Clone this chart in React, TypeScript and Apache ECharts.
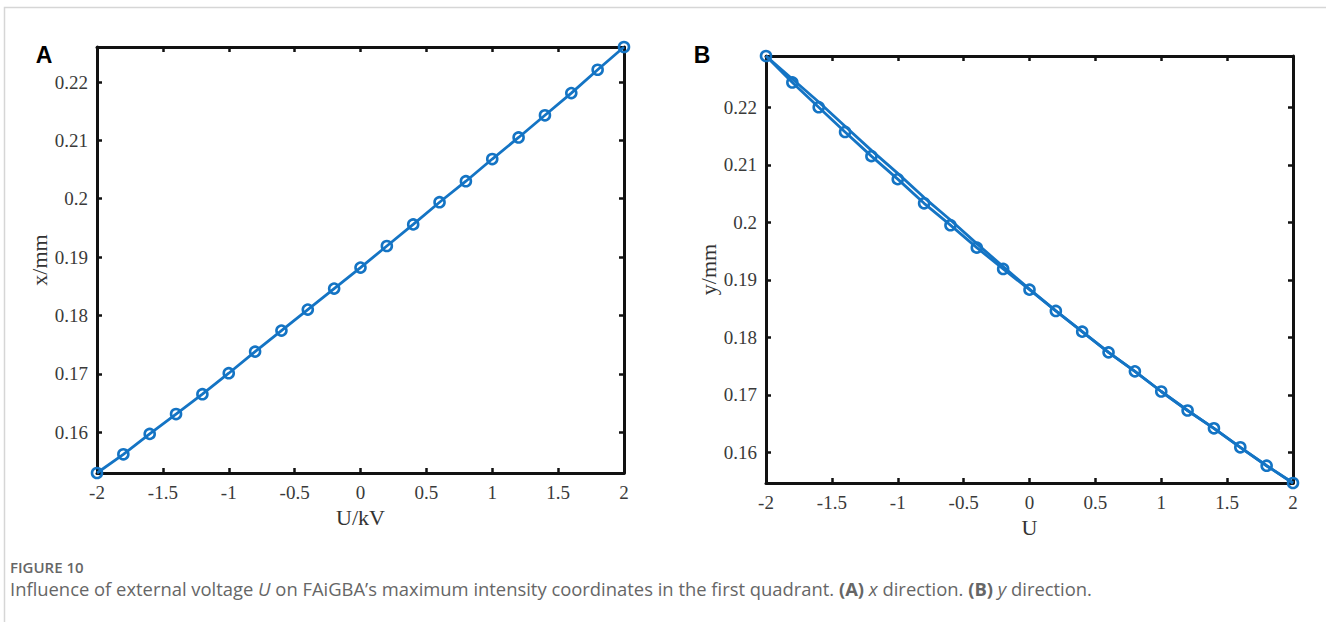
import React, { useEffect, useRef } from "react";
import * as echarts from "echarts";

// Applied voltage U (kV), swept from -2 to 2 in 0.2 steps
const U = [-2, -1.8, -1.6, -1.4, -1.2, -1, -0.8, -0.6, -0.4, -0.2, 0, 0.2, 0.4, 0.6, 0.8, 1, 1.2, 1.4, 1.6, 1.8, 2];

// (A) x coordinate of maximum intensity (mm)
const xMax = [
  0.153, 0.1562, 0.1597, 0.1631, 0.1665, 0.1701, 0.1738, 0.1774, 0.181, 0.1846, 0.1882,
  0.1919, 0.1956, 0.1994, 0.203, 0.2068, 0.2105, 0.2143, 0.2181, 0.2221, 0.226,
];

// (B) y coordinate of maximum intensity (mm), two sweeps
const yMaxSweep1 = [
  0.2289, 0.2243, 0.22, 0.2157, 0.2115, 0.2075, 0.2033, 0.1995, 0.1956, 0.1919, 0.1883,
  0.1846, 0.181, 0.1774, 0.1741, 0.1706, 0.1673, 0.1642, 0.1609, 0.1577, 0.1547,
];
const yMaxSweep2 = [
  0.2289, 0.2249, 0.2209, 0.2167, 0.2125, 0.2085, 0.2043, 0.2004, 0.1963, 0.1923, 0.1884,
  0.1846, 0.181, 0.1774, 0.1741, 0.1706, 0.1673, 0.1642, 0.1609, 0.1577, 0.1547,
];

const yTickValues = [0.16, 0.17, 0.18, 0.19, 0.2, 0.21, 0.22];
const yTickLabels = ["0.16", "0.17", "0.18", "0.19", "0.2", "0.21", "0.22"];

const BLUE = "#1474c4";
const SERIF = "'Liberation Serif', 'Times New Roman', serif";
const CAPTION_FONT = "'Open Sans', sans-serif";

const pair = (xs: number[], ys: number[]) => xs.map((x, i) => [x, ys[i]]);

export default function App() {
  const ref = useRef<HTMLDivElement>(null);

  useEffect(() => {
    document.body.style.margin = "0";
    const chart = echarts.init(ref.current!, null, { renderer: "svg" });

    const axisLine = { show: true, onZero: false, lineStyle: { color: "#111", width: 3 } };
    const tick = { show: true, inside: true, length: 5, lineStyle: { color: "#111", width: 2.5 } };
    const tickLabel = { color: "#3a3a3a", fontFamily: SERIF, fontSize: 19 };

    const makeX = (grid: number, name: string, gap: number) => [
      {
        type: "value", gridIndex: grid, min: -2, max: 2, interval: 0.5, position: "bottom",
        name, nameLocation: "middle", nameGap: gap,
        nameTextStyle: { color: "#333", fontFamily: SERIF, fontSize: 22 },
        axisLine, axisTick: tick, splitLine: { show: false },
        axisLabel: { ...tickLabel, margin: 10 },
      },
      {
        type: "value", gridIndex: grid, min: -2, max: 2, interval: 0.5, position: "top",
        axisLine, axisTick: tick, splitLine: { show: false }, axisLabel: { show: false },
      },
    ];

    const makeY = (grid: number, name: string, gap: number, data: number[]) => {
      const min = Math.min(...data);
      const max = Math.max(...data);
      return [
        {
          type: "value", gridIndex: grid, min, max, position: "left",
          name, nameLocation: "middle", nameGap: gap,
          nameTextStyle: { color: "#333", fontFamily: SERIF, fontSize: 22 },
          axisLine,
          axisTick: { ...tick, customValues: yTickValues },
          splitLine: { show: false },
          axisLabel: {
            ...tickLabel, margin: 9, customValues: yTickValues,
            formatter: (v: number) => {
              const i = yTickValues.findIndex((t) => Math.abs(t - v) < 1e-9);
              return i >= 0 ? yTickLabels[i] : "";
            },
          },
        },
        {
          type: "value", gridIndex: grid, min, max, position: "right",
          axisLine,
          axisTick: { ...tick, customValues: yTickValues },
          splitLine: { show: false }, axisLabel: { show: false },
        },
      ];
    };

    // Solid connecting line
    const lineSeries = (axis: number, data: number[][]) => ({
      type: "line",
      xAxisIndex: axis,
      yAxisIndex: axis,
      data,
      clip: false,
      symbol: "none",
      showSymbol: false,
      color: BLUE,
      lineStyle: { color: BLUE, width: 2.8, type: "solid" },
      z: 3,
    });

    // Hollow circle markers, line visible through them
    const markerSeries = (axis: number, data: number[][]) => ({
      type: "scatter",
      xAxisIndex: axis,
      yAxisIndex: axis,
      data,
      clip: false,
      symbol: "circle",
      symbolSize: 10,
      itemStyle: { color: "transparent", borderColor: BLUE, borderWidth: 2.6, opacity: 1 },
      z: 4,
    });

    chart.setOption({
      animation: false,
      backgroundColor: "#fff",
      grid: [
        { left: 97, top: 47, width: 527, height: 426 },
        { left: 766, top: 56, width: 527, height: 427 },
      ],
      xAxis: [...makeX(0, "U/kV", 32), ...makeX(1, "U", 31)],
      yAxis: [...makeY(0, "x/mm", 47, xMax), ...makeY(1, "y/mm", 44, yMaxSweep1.concat(yMaxSweep2))],
      series: [
        lineSeries(0, pair(U, xMax)),
        markerSeries(0, pair(U, xMax)),
        lineSeries(2, pair(U, yMaxSweep2)),
        lineSeries(2, pair(U, yMaxSweep1)),
        markerSeries(2, pair(U, yMaxSweep1)),
      ],
      graphic: [
        {
          type: "rect", silent: true,
          shape: { x: 4.5, y: 7.5, width: 1400, height: 700 },
          style: { fill: "none", stroke: "#d6d6d6", lineWidth: 1.5 },
        },
        {
          type: "text", x: 44, y: 55,
          style: {
            text: "A", fill: "#000", font: "bold 23px 'Liberation Sans', Arial, sans-serif",
            align: "center", verticalAlign: "middle",
          },
        },
        {
          type: "text", x: 702, y: 55,
          style: {
            text: "B", fill: "#000", font: "bold 23px 'Liberation Sans', Arial, sans-serif",
            align: "center", verticalAlign: "middle",
          },
        },
        {
          type: "text", x: 10, y: 567,
          style: {
            text: "FIGURE 10", fill: "#666", font: `600 15px ${CAPTION_FONT}`,
            verticalAlign: "middle",
          },
        },
        {
          type: "text", x: 10, y: 588,
          style: {
            text:
              "Influence of external voltage {i|U} on FAiGBA’s maximum intensity coordinates in the first quadrant. {b|(A)} {i|x} direction. {b|(B)} {i|y} direction.",
            fill: "#666",
            font: `18.4px ${CAPTION_FONT}`,
            verticalAlign: "middle",
            rich: {
              i: { fontStyle: "italic", fontFamily: CAPTION_FONT, fontSize: 18.4, fill: "#666" },
              b: { fontWeight: "bold", fontFamily: CAPTION_FONT, fontSize: 18.4, fill: "#666" },
            },
          },
        },
      ],
    });

    return () => chart.dispose();
  }, []);

  return <div ref={ref} style={{ width: 1326, height: 622 }} />;
}
